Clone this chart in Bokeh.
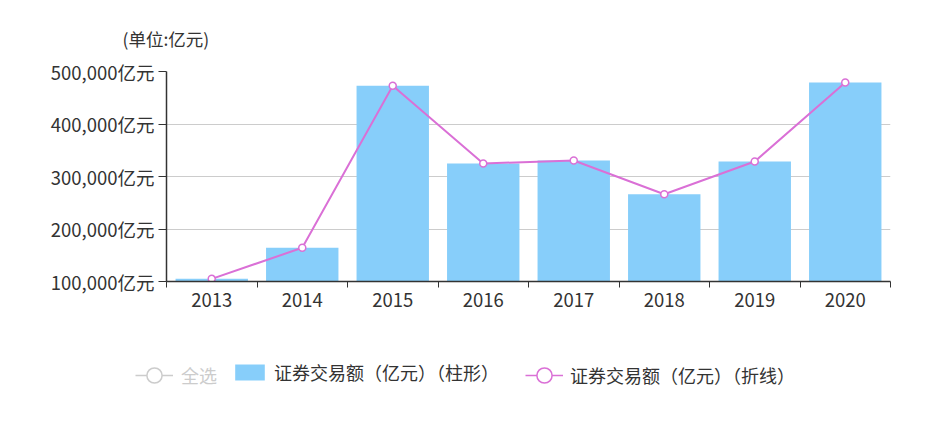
from bokeh.plotting import figure
from bokeh.layouts import column
from bokeh.models import (ColumnDataSource, FixedTicker, Legend, LegendItem,
                          Title, Range1d)
from bokeh.embed import file_html
from bokeh.resources import INLINE

# ---- data ----
years = ["2013", "2014", "2015", "2016", "2017", "2018", "2019", "2020"]
bar_values = [105100, 164200, 472800, 324800, 330500, 266300, 328600, 479000]
line_values = [105100, 164200, 472800, 324800, 330500, 266300, 328600, 479000]
y_ticks = [100000, 200000, 300000, 400000, 500000]
y_tick_labels = ["100,000亿元", "200,000亿元", "300,000亿元", "400,000亿元", "500,000亿元"]
unit_title = "(单位:亿元)"
select_all_name = "全选"
bar_name = "证券交易额（亿元）（柱形）"
line_name = "证券交易额（亿元）（折线）"

FONT = "Noto Sans CJK SC"
TXT = "#333333"
BAR_C = "#87CEFA"
LINE_C = "#DA70D6"
GREY = "#cccccc"

xs = [i + 0.5 for i in range(len(years))]
src = ColumnDataSource(data=dict(x=xs, year=years, bar=bar_values, line=line_values))

# ---------------- main chart ----------------
p = figure(width=943, height=330, output_backend="svg", toolbar_location=None,
           x_range=Range1d(0, len(years)), y_range=Range1d(y_ticks[0], y_ticks[-1]),
           min_border_left=166, min_border_right=53, min_border_top=71,
           min_border_bottom=49)
p.frame_align = False
p.outline_line_color = None
p.border_fill_color = "white"

p.vbar(x="x", top="bar", bottom=y_ticks[0], width=0.8, source=src,
       fill_color=BAR_C, line_color=None)
p.line(x="x", y="line", source=src, line_color=LINE_C, line_width=2)
p.scatter(x="x", y="line", source=src, marker="circle", size=7,
          fill_color="white", line_color=LINE_C, line_width=1.5)

p.xgrid.visible = False
p.ygrid.grid_line_color = "#cccccc"
p.ygrid.grid_line_width = 1

xa = p.xaxis[0]
xa.ticker = FixedTicker(ticks=xs, minor_ticks=list(range(len(years) + 1)))
xa.major_label_overrides = {x: y for x, y in zip(xs, years)}
xa.major_tick_out = 0
xa.major_tick_in = 0
xa.minor_tick_out = 6
xa.minor_tick_in = 0
xa.minor_tick_line_color = TXT
xa.axis_line_color = TXT
xa.axis_line_width = 1.5
xa.major_label_text_font = FONT
xa.major_label_text_font_size = "18.5px"
xa.major_label_text_color = TXT
xa.major_label_standoff = 5

ya = p.yaxis[0]
ya.ticker = FixedTicker(ticks=y_ticks, minor_ticks=[])
ya.major_label_overrides = {t: l for t, l in zip(y_ticks, y_tick_labels)}
ya.major_tick_out = 8
ya.major_tick_in = 0
ya.major_tick_line_color = TXT
ya.axis_line_color = TXT
ya.axis_line_width = 1.5
ya.major_label_text_font = FONT
ya.major_label_text_font_size = "18.5px"
ya.major_label_text_color = TXT
ya.major_label_standoff = 4

p.add_layout(Title(text=unit_title, align="left", offset=-44, text_font=FONT,
                   text_font_size="17.5px", text_font_style="normal",
                   text_color=TXT, standoff=42), "above")

# ---------------- legend strip ----------------
lg = figure(width=943, height=94, output_backend="svg", toolbar_location=None,
            x_axis_type=None, y_axis_type=None, min_border=0,
            x_range=Range1d(0, 1), y_range=Range1d(0, 1))
lg.frame_align = False
lg.outline_line_color = None
lg.grid.visible = False
lg.border_fill_color = "white"

def offscreen():
    # one point outside the visible range, only so the legend can draw the glyph
    return ColumnDataSource(data=dict(x=[-10.0], y=[-10.0]))

sel_l = lg.line(x="x", y="y", source=offscreen(), line_color=GREY, line_width=1.5)
sel_p = lg.scatter(x="x", y="y", source=offscreen(), marker="circle",
                   fill_color="white", line_color=GREY, line_width=1.5)
bar_d = lg.vbar(x="x", top="y", width=0.1, source=offscreen(), fill_color=BAR_C,
                line_color=None)
ln_l = lg.line(x="x", y="y", source=offscreen(), line_color=LINE_C, line_width=1.5)
ln_p = lg.scatter(x="x", y="y", source=offscreen(), marker="circle",
                  fill_color="white", line_color=LINE_C, line_width=1.5)

common = dict(orientation="horizontal", padding=0, margin=0,
              border_line_color=None, background_fill_alpha=0,
              label_text_font=FONT, label_text_font_size="18px")

leg1 = Legend(items=[LegendItem(label=select_all_name, renderers=[sel_l, sel_p])],
              location=(135, 29), glyph_width=38, glyph_height=40,
              label_standoff=8, label_text_color=GREY, **common)
leg2 = Legend(items=[LegendItem(label=bar_name, renderers=[bar_d])],
              location=(231, 39), glyph_width=37, glyph_height=20,
              label_standoff=6, label_text_color=TXT, **common)
leg3 = Legend(items=[LegendItem(label=line_name, renderers=[ln_l, ln_p])],
              location=(525, 29), glyph_width=38, glyph_height=40,
              label_standoff=7, label_text_color=TXT, **common)
for L in (leg1, leg2, leg3):
    lg.add_layout(L)

page = column(p, lg, spacing=0)
open("out.html", "w").write(file_html(page, INLINE))
